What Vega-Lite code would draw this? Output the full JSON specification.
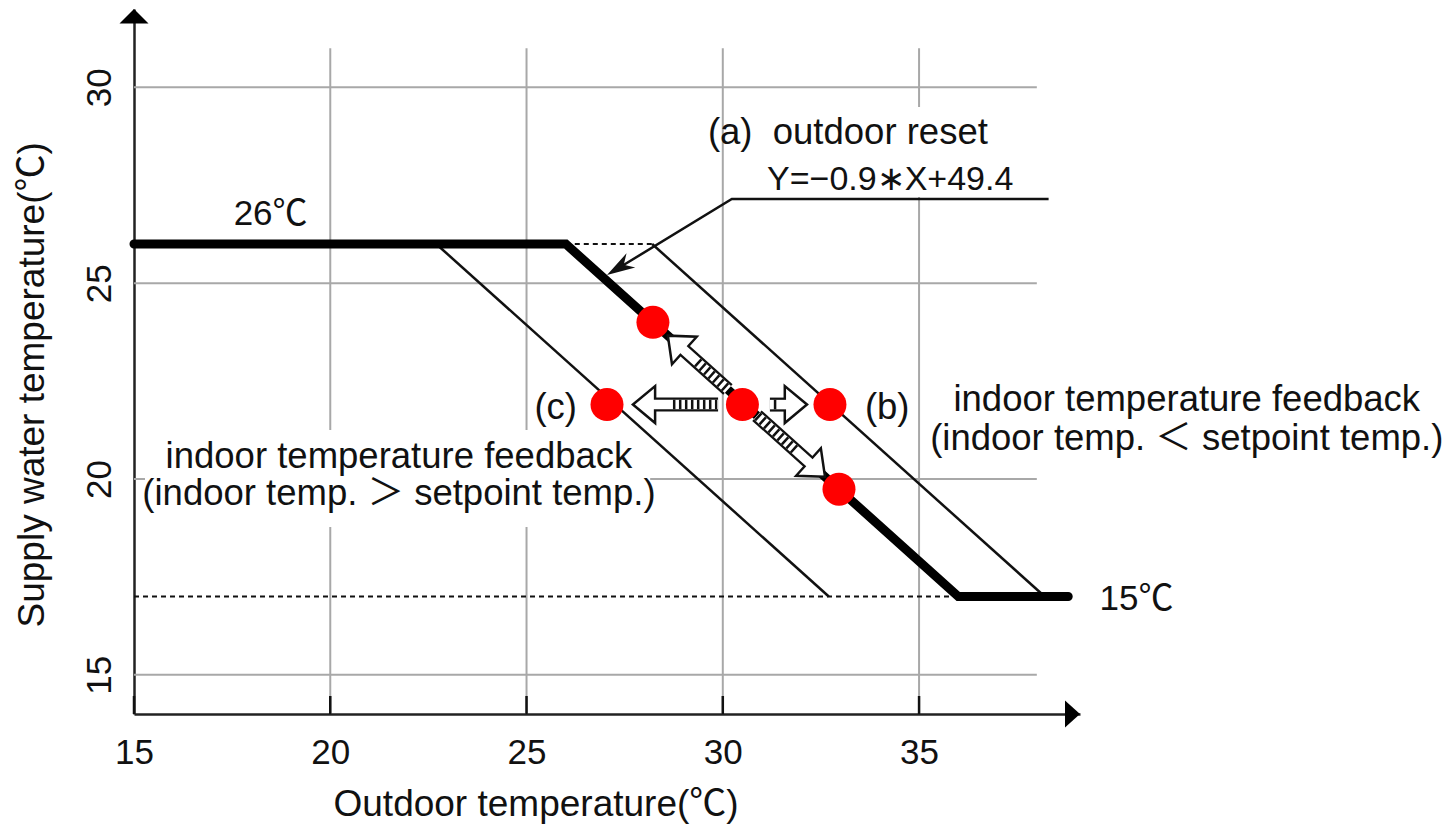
{
  "$schema": "https://vega.github.io/schema/vega-lite/v6.json",
  "width": 946,
  "height": 705,
  "autosize": {"type": "none"},
  "padding": {"left": 134, "top": 9, "right": 371, "bottom": 112},
  "background": "white",
  "config": {
    "view": {"stroke": null},
    "font": "Liberation Sans, Noto Sans CJK JP, sans-serif",
    "text": {"font": "Liberation Sans, Noto Sans CJK JP, sans-serif", "fontSize": 36.5, "color": "#111111"}
  },
  "datasets": {
    "gridv": [
      {"x": 20, "y": 14, "y2": 31},
      {"x": 25, "y": 14, "y2": 31},
      {"x": 30, "y": 14, "y2": 31},
      {"x": 35, "y": 14, "y2": 31}
    ],
    "gridh": [
      {"y": 15, "x": 15, "x2": 38},
      {"y": 20, "x": 15, "x2": 38},
      {"y": 25, "x": 15, "x2": 38},
      {"y": 30, "x": 15, "x2": 38}
    ],
    "boxes": [
      {"x": 15.28, "x2": 28.15, "y": 18.775, "y2": 21.251},
      {"x": 30.69, "x2": 38.3, "y": 27.2, "y2": 29.498}
    ],
    "ticks": [
      {"x": 15, "y": 14, "y2": 14.46},
      {"x": 20, "y": 14, "y2": 14.46},
      {"x": 25, "y": 14, "y2": 14.46},
      {"x": 30, "y": 14, "y2": 14.46},
      {"x": 35, "y": 14, "y2": 14.46}
    ],
    "dashed": [
      {"x": 26, "x2": 28.2, "y": 26},
      {"x": 15, "x2": 38.2, "y": 17}
    ],
    "thin": [
      {"x": 22.7, "y": 26, "x2": 32.7, "y2": 17},
      {"x": 28.2, "y": 26, "x2": 38.2, "y2": 17}
    ],
    "thick": [
      {"x": 15, "y": 26},
      {"x": 26, "y": 26},
      {"x": 36, "y": 17},
      {"x": 38.8, "y": 17}
    ],
    "annot": [
      {"x": 38.3, "y": 27.149},
      {"x": 30.23, "y": 27.149},
      {"x": 27.45, "y": 25.45}
    ],
    "annothead": [{"x": 27.05, "y": 25.21}],
    "yarrow": [{"x": 15, "y": 32}],
    "xarrow": [{"x": 39.1, "y": 14}],
    "shafts": [
      {"x": 28.2, "y": 21.9, "x2": 29.88, "y2": 21.9},
      {"x": 31.2, "y": 21.9, "x2": 31.66, "y2": 21.9},
      {"x": 28.958, "y": 23.338, "x2": 30.13, "y2": 22.283},
      {"x": 30.87, "y": 21.617, "x2": 32.25, "y2": 20.375}
    ],
    "hatch": [
      {"x": 28.73, "y": 21.9, "x2": 29.86, "y2": 21.9},
      {"x": 31.3, "y": 21.9, "x2": 31.45, "y2": 21.9},
      {"x": 29.35, "y": 22.985, "x2": 30.12, "y2": 22.292},
      {"x": 30.88, "y": 21.608, "x2": 31.89, "y2": 20.699}
    ],
    "heads": [
      {"k": "L", "x": 27.71, "y": 21.9},
      {"k": "R", "x": 32.145, "y": 21.9},
      {"k": "UL", "x": 28.6, "y": 23.66},
      {"k": "DR", "x": 32.604, "y": 20.056}
    ],
    "circles": [
      {"x": 28.22, "y": 24.0},
      {"x": 30.5, "y": 21.9},
      {"x": 32.73, "y": 21.9},
      {"x": 27.05, "y": 21.9},
      {"x": 32.96, "y": 19.74}
    ],
    "textT": [
      {"x": 18.48, "y": 26.485, "t": "26℃"},
      {"x": 40.54, "y": 16.66, "t": "15℃"}
    ],
    "textC": [
      {"x": 41.82, "y": 21.736, "t": "indoor temperature feedback"},
      {"x": 41.82, "y": 20.74, "t": "(indoor temp. ＜ setpoint temp.)"},
      {"x": 21.75, "y": 20.281, "t": "indoor temperature feedback"},
      {"x": 21.75, "y": 19.336, "t": "(indoor temp. ＞ setpoint temp.)"}
    ],
    "textL": [
      {"x": 29.62, "y": 28.553, "t": "(a)\u00a0\u00a0outdoor reset"},
      {"x": 33.62, "y": 21.52, "t": "(b)"}
    ],
    "textEq": [
      {"x": 31.126, "y": 27.379, "t": "Y=−0.9∗X+49.4"}
    ],
    "textR": [
      {"x": 26.286, "y": 21.52, "t": "(c)"}
    ]
  },
  "encoding": {
    "x": {
      "field": "x", "type": "quantitative",
      "scale": {"domain": [15, 39.1], "nice": false, "zero": false},
      "axis": {
        "values": [15, 20, 25, 30, 35], "grid": false, "ticks": false, "tickSize": 0,
        "domain": true, "domainColor": "#222222", "domainWidth": 2.5,
        "labelFontSize": 35, "labelColor": "#111111", "labelPadding": 49,
        "labelBaseline": "alphabetic", "labelFlush": false, "labelOverlap": false,
        "labelFont": "Liberation Sans, Noto Sans CJK JP, sans-serif",
        "title": "Outdoor temperature(℃)", "titleFontSize": 37, "titleFontWeight": "normal",
        "titleFont": "Liberation Sans, Noto Sans CJK JP, sans-serif",
        "titleColor": "#111111", "titleX": 199, "titleY": 101, "titleAlign": "left",
        "titleBaseline": "alphabetic", "titleAnchor": "start"
      }
    },
    "y": {
      "field": "y", "type": "quantitative",
      "scale": {"domain": [14, 32], "nice": false, "zero": false},
      "axis": {
        "values": [15, 20, 25, 30], "grid": false, "ticks": false, "tickSize": 0,
        "domain": true, "domainColor": "#222222", "domainWidth": 2.5,
        "labelAngle": -90, "labelAlign": "center", "labelBaseline": "alphabetic",
        "labelPadding": 24, "labelFontSize": 35, "labelColor": "#111111",
        "labelFlush": false, "labelOverlap": false,
        "labelFont": "Liberation Sans, Noto Sans CJK JP, sans-serif",
        "title": "Supply water temperature(℃)", "titleFontSize": 37, "titleFontWeight": "normal",
        "titleFont": "Liberation Sans, Noto Sans CJK JP, sans-serif",
        "titleColor": "#111111", "titleX": -91, "titleY": 618, "titleAngle": -90,
        "titleAlign": "left", "titleBaseline": "alphabetic", "titleAnchor": "start"
      }
    }
  },
  "layer": [
    {"data": {"name": "gridv"}, "mark": {"type": "rule", "color": "#a8a8a8", "strokeWidth": 2}, "encoding": {"y2": {"field": "y2"}}},
    {"data": {"name": "gridh"}, "mark": {"type": "rule", "color": "#a8a8a8", "strokeWidth": 2}, "encoding": {"x2": {"field": "x2"}}},
    {"data": {"name": "boxes"}, "mark": {"type": "rect", "fill": "white", "opacity": 1}, "encoding": {"x2": {"field": "x2"}, "y2": {"field": "y2"}}},
    {"data": {"name": "ticks"}, "mark": {"type": "rule", "color": "#111111", "strokeWidth": 2.5}, "encoding": {"y2": {"field": "y2"}}},
    {"data": {"name": "dashed"}, "mark": {"type": "rule", "color": "#111111", "strokeWidth": 2, "strokeDash": [5, 4]}, "encoding": {"x2": {"field": "x2"}}},
    {"data": {"name": "thin"}, "mark": {"type": "rule", "color": "#111111", "strokeWidth": 2.5}, "encoding": {"x2": {"field": "x2"}, "y2": {"field": "y2"}}},
    {"data": {"name": "thick"}, "mark": {"type": "line", "color": "#000000", "strokeWidth": 9, "strokeCap": "round", "strokeJoin": "miter"}, "encoding": {}},
    {"data": {"name": "annot"}, "mark": {"type": "line", "color": "#111111", "strokeWidth": 2.5, "strokeJoin": "miter"}, "encoding": {}},
    {"data": {"name": "annothead"}, "mark": {"type": "point", "shape": "M0,0 L-2,-0.6 L-1.4,0 L-2,0.6 Z", "size": 784, "angle": 148.7, "filled": true, "color": "#111111", "opacity": 1}},
    {"data": {"name": "yarrow"}, "mark": {"type": "point", "shape": "M0,0 L1,1 L-1,1 Z", "size": 841, "filled": true, "color": "#000000", "opacity": 1}},
    {"data": {"name": "xarrow"}, "mark": {"type": "point", "shape": "M0,0 L-2,-1.8 L-2,1.8 Z", "size": 225, "filled": true, "color": "#000000", "opacity": 1}},
    {"data": {"name": "shafts"}, "mark": {"type": "rule", "color": "#111111", "strokeWidth": 14}, "encoding": {"x2": {"field": "x2"}, "y2": {"field": "y2"}}},
    {"data": {"name": "heads"}, "transform": [{"filter": "datum.k == 'L'"}], "mark": {"type": "point", "shape": "M0,0 L-1.2,-1 L-1.2,1 Z", "size": 1369, "angle": 180, "filled": true, "fill": "white", "stroke": "#111111", "strokeWidth": 2.5, "opacity": 1}},
    {"data": {"name": "heads"}, "transform": [{"filter": "datum.k == 'R'"}], "mark": {"type": "point", "shape": "M0,0 L-1.2,-1 L-1.2,1 Z", "size": 1369, "angle": 0, "filled": true, "fill": "white", "stroke": "#111111", "strokeWidth": 2.5, "opacity": 1}},
    {"data": {"name": "heads"}, "transform": [{"filter": "datum.k == 'UL'"}], "mark": {"type": "point", "shape": "M0,0 L-1.2,-1 L-1.2,1 Z", "size": 1369, "angle": 221.93, "filled": true, "fill": "white", "stroke": "#111111", "strokeWidth": 2.5, "opacity": 1}},
    {"data": {"name": "heads"}, "transform": [{"filter": "datum.k == 'DR'"}], "mark": {"type": "point", "shape": "M0,0 L-1.2,-1 L-1.2,1 Z", "size": 1369, "angle": 41.93, "filled": true, "fill": "white", "stroke": "#111111", "strokeWidth": 2.5, "opacity": 1}},
    {"data": {"name": "shafts"}, "mark": {"type": "rule", "color": "white", "strokeWidth": 9.5}, "encoding": {"x2": {"field": "x2"}, "y2": {"field": "y2"}}},
    {"data": {"name": "hatch"}, "mark": {"type": "rule", "color": "#111111", "strokeWidth": 9.5, "strokeDash": [2.5, 3.5]}, "encoding": {"x2": {"field": "x2"}, "y2": {"field": "y2"}}},
    {"data": {"name": "circles"}, "mark": {"type": "circle", "size": 1089, "color": "#ff0000", "opacity": 1}},
    {"data": {"name": "textT"}, "mark": {"type": "text", "align": "center", "baseline": "alphabetic", "fontSize": 35}, "encoding": {"text": {"field": "t"}}},
    {"data": {"name": "textC"}, "mark": {"type": "text", "align": "center", "baseline": "alphabetic"}, "encoding": {"text": {"field": "t"}}},
    {"data": {"name": "textL"}, "mark": {"type": "text", "align": "left", "baseline": "alphabetic"}, "encoding": {"text": {"field": "t"}}},
    {"data": {"name": "textEq"}, "mark": {"type": "text", "align": "left", "baseline": "alphabetic", "fontSize": 34}, "encoding": {"text": {"field": "t"}}},
    {"data": {"name": "textR"}, "mark": {"type": "text", "align": "right", "baseline": "alphabetic"}, "encoding": {"text": {"field": "t"}}}
  ]
}
